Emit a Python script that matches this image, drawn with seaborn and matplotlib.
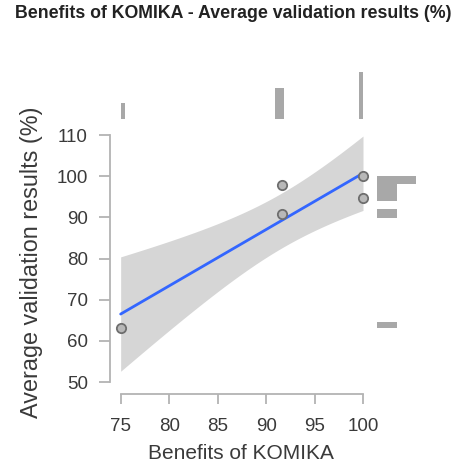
import numpy as np
import pandas as pd
import matplotlib
matplotlib.use("Agg")
import matplotlib.pyplot as plt
import seaborn as sns

# Observations
benefits = [75.0, 91.67, 91.67, 100.0, 100.0]
validation = [63.2, 97.8, 90.8, 100.0, 94.8]

# Marginal histogram bins (left edge, right edge, count)
top_left = [75.0, 90.9, 99.6]
top_right = [75.4, 91.8, 100.0]
top_count = [1, 2, 3]

side_low = [63.1, 89.8, 93.9, 98.1]
side_high = [64.5, 92.0, 98.1, 100.0]
side_count = [1, 1, 1, 2]

x_ticks = [75, 80, 85, 90, 95, 100]
y_ticks = [50, 60, 70, 80, 90, 100, 110]

title = "Benefits of KOMIKA - Average validation results (%)"
x_label = "Benefits of KOMIKA"
y_label = "Average validation results (%)"

T_CRIT = 2.353  # Student t, two-sided 90%, 3 degrees of freedom

sns.set_theme(style="white")
plt.rcParams["font.family"] = ["Liberation Sans", "DejaVu Sans"]

df = pd.DataFrame({"x": benefits, "y": validation})

# Least-squares fit and confidence band of the mean
x = df["x"].to_numpy()
y = df["y"].to_numpy()
n = len(x)
slope, intercept = np.polyfit(x, y, 1)
resid = y - (intercept + slope * x)
s = np.sqrt(np.sum(resid ** 2) / (n - 2))
grid = np.linspace(x.min(), x.max(), 100)
fit = intercept + slope * grid
se = s * np.sqrt(1 / n + (grid - x.mean()) ** 2 / np.sum((x - x.mean()) ** 2))
fit_df = pd.DataFrame({"x": grid, "y": fit})

W, H = 453, 471
fig = plt.figure(figsize=(W / 100, H / 100), dpi=100)

axis_grey = "#b3b3b3"
text_grey = "#3a3a3a"

ax = fig.add_axes([110 / W, 1 - 394 / H, (372.7 - 110) / W, (394 - 130.9) / H])
ax.fill_between(grid, fit - T_CRIT * se, fit + T_CRIT * se, color="#d6d6d6", lw=0, zorder=1)
sns.lineplot(data=fit_df, x="x", y="y", ax=ax, color="#3366ff", lw=2, zorder=2)
sns.scatterplot(data=df, x="x", y="y", ax=ax, s=45, color="#b8b8b8",
                edgecolor="#6e6e6e", linewidth=1.3, zorder=3, clip_on=False)
ax.set_xlim(73.9, 101)
ax.set_ylim(47.1, 111)
ax.set_xticks(x_ticks)
ax.set_yticks(y_ticks)
for side in ["top", "right"]:
    ax.spines[side].set_visible(False)
for side in ["left", "bottom"]:
    ax.spines[side].set_color(axis_grey)
    ax.spines[side].set_linewidth(1.3)
ax.spines["left"].set_bounds(50, 110)
ax.spines["bottom"].set_bounds(75, 100)
ax.tick_params(axis="both", which="major", left=True, bottom=True, color=axis_grey,
               width=1.3, labelsize=13.5, labelcolor=text_grey)
ax.tick_params(axis="y", length=8, pad=8)
ax.tick_params(axis="x", length=7, pad=10)
ax.set_xlabel(x_label, fontsize=15, color=text_grey, labelpad=7)
ax.set_ylabel(y_label, fontsize=16.8, color=text_grey, labelpad=10)

# Top marginal histogram
axt = fig.add_axes([110 / W, 1 - 119 / H, (372.7 - 110) / W, 47 / H], sharex=ax)
axt.bar(top_left, top_count, width=np.subtract(top_right, top_left), align="edge",
        color="#a8a8a8", lw=0)
axt.set_ylim(0, 3)
axt.axis("off")

# Right marginal histogram
axr = fig.add_axes([377 / W, 1 - 394 / H, 39 / W, (394 - 130.9) / H], sharey=ax)
axr.barh(side_low, side_count, height=np.subtract(side_high, side_low), align="edge",
         color="#a8a8a8", lw=0)
axr.set_xlim(0, 2)
axr.axis("off")

fig.text(15 / W, 1 - 14 / H, title, fontsize=12.8, fontweight="bold",
         color="#222222", va="center", ha="left")

fig.savefig("out.png", dpi=100)
